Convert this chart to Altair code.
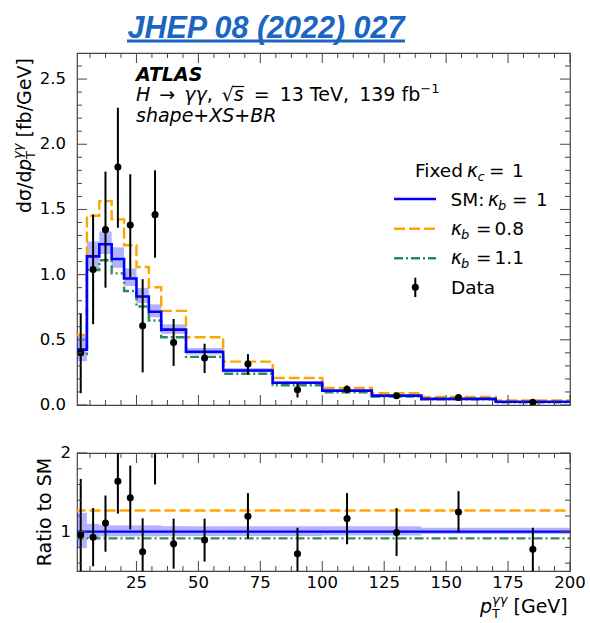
import altair as alt
import pandas as pd

# ---- binned predictions (pT bins in GeV, cross sections in fb/GeV) ----
bin_lo = [0, 5, 10, 15, 20, 25, 30, 35, 45, 60, 80, 100, 120, 140, 170]
bin_hi = [5, 10, 15, 20, 25, 30, 35, 45, 60, 80, 100, 120, 140, 170, 200]
sm_xs = [0.425, 1.14, 1.233, 1.12, 0.97, 0.832, 0.715, 0.578, 0.409, 0.265, 0.171, 0.110, 0.072, 0.047, 0.025]
kb08_xs = [0.537, 1.452, 1.564, 1.424, 1.225, 1.059, 0.903, 0.722, 0.52, 0.333, 0.207, 0.131, 0.090, 0.061, 0.034]
kb11_xs = [0.39, 1.035, 1.11, 1.01, 0.875, 0.755, 0.648, 0.52, 0.369, 0.24, 0.152, 0.097, 0.065, 0.043, 0.021]
# SM uncertainty band, relative to SM
sm_unc_lo = [0.79, 0.92, 0.94, 0.94, 0.94, 0.94, 0.94, 0.945, 0.945, 0.945, 0.945, 0.95, 0.95, 0.97, 0.97]
sm_unc_hi = [1.24, 1.10, 1.08, 1.08, 1.08, 1.08, 1.08, 1.07, 1.07, 1.07, 1.07, 1.07, 1.07, 1.05, 1.05]
# ratios to SM
ratio_sm = [1.0, 1.0, 1.0, 1.0, 1.0, 1.0, 1.0, 1.0, 1.0, 1.0, 1.0, 1.0, 1.0, 1.0, 1.0]
ratio_kb08 = [1.27, 1.27, 1.27, 1.27, 1.27, 1.27, 1.27, 1.27, 1.27, 1.27, 1.27, 1.27, 1.27, 1.27, 1.27]
ratio_kb11 = [0.915, 0.915, 0.915, 0.915, 0.915, 0.915, 0.915, 0.915, 0.915, 0.915, 0.915, 0.915, 0.915, 0.915, 0.915]

# ---- measured data ----
data_x = [2.5, 7.5, 12.5, 17.5, 22.5, 27.5, 32.5, 40, 52.5, 70, 90, 110, 130, 155, 185]
data_y = [0.40, 1.04, 1.345, 1.825, 1.38, 0.607, 1.46, 0.48, 0.36, 0.314, 0.117, 0.12, 0.071, 0.058, 0.021]
data_lo = [0.09, 0.62, 0.90, 1.36, 0.98, 0.25, 1.13, 0.30, 0.245, 0.232, 0.058, 0.09, 0.055, 0.048, 0.015]
data_hi = [0.70, 1.46, 1.79, 2.28, 1.77, 0.965, 1.80, 0.66, 0.47, 0.39, 0.168, 0.15, 0.087, 0.068, 0.027]
ratio_y = [0.958, 0.93, 1.11, 1.64, 1.43, 0.745, 2.06, 0.847, 0.894, 1.196, 0.72, 1.166, 0.99, 1.25, 0.776]
ratio_lo = [0.25, 0.56, 0.745, 1.23, 1.03, 0.32, 1.60, 0.53, 0.62, 0.91, 0.37, 0.84, 0.69, 0.99, 0.45]
ratio_hi = [1.67, 1.30, 1.46, 2.05, 1.84, 1.17, 2.53, 1.166, 1.166, 1.49, 1.05, 1.49, 1.30, 1.515, 1.05]

# ---- axis ticks and tick labels ----
x_major = [25, 50, 75, 100, 125, 150, 175, 200]
x_labels = ["25", "50", "75", "100", "125", "150", "175", "200"]
x_minor = [6.25 * i for i in range(1, 32) if i % 4]
y1_major = [0.0, 0.5, 1.0, 1.5, 2.0, 2.5]
y1_labels = ["0.0", "0.5", "1.0", "1.5", "2.0", "2.5"]
y1_minor = [round(0.1 * i, 1) for i in range(1, 27) if i % 5]
y2_major = [1, 2]
y2_labels = ["1", "2"]
y2_minor = [0.6, 0.8, 1.2, 1.4, 1.6, 1.8]

W, H1, H2 = 493, 352, 118
FONT = "DejaVu Sans"
BLUE, ORANGE, GREEN = "#0000ff", "#ffa500", "#2e8b57"
FRAME = "#444444"
TICK_FS = 16.5
XS = alt.Scale(domain=[1, 200], nice=False, zero=False)
YS1 = alt.Scale(domain=[0, 2.7], nice=False, zero=False)
YS2 = alt.Scale(domain=[0.5, 2.0], nice=False, zero=False)


def one():
    return pd.DataFrame({"a": [0]})


def step_frame(values):
    return pd.DataFrame({"x": bin_lo + [bin_hi[-1]], "y": values + [values[-1]]})


def step_line(values, color, yscale, dash=None, width=2.2):
    kw = dict(color=color, strokeWidth=width, interpolate="step-after", clip=True, strokeCap="butt")
    if dash:
        kw["strokeDash"] = dash
    return alt.Chart(step_frame(values)).mark_line(**kw).encode(
        x=alt.X("x:Q", scale=XS, axis=None), y=alt.Y("y:Q", scale=yscale, axis=None))


def band(lo, hi, yscale):
    df = pd.DataFrame({"a": bin_lo, "b": bin_hi, "lo": lo, "hi": hi})
    return alt.Chart(df).mark_rect(color=BLUE, opacity=0.3, clip=True).encode(
        x=alt.X("a:Q", scale=XS, axis=None), x2="b:Q",
        y=alt.Y("lo:Q", scale=yscale, axis=None), y2="hi:Q")


def data_marks(ys, los, his, yscale):
    df = pd.DataFrame({"x": data_x, "y": ys, "lo": los, "hi": his})
    base = alt.Chart(df)
    err = base.mark_rule(color="black", strokeWidth=2, clip=True).encode(
        x=alt.X("x:Q", scale=XS, axis=None), y=alt.Y("lo:Q", scale=yscale, axis=None), y2="hi:Q")
    pts = base.mark_circle(color="black", opacity=1, size=50, clip=True).encode(
        x=alt.X("x:Q", scale=XS, axis=None), y=alt.Y("y:Q", scale=yscale, axis=None))
    return [err, pts]


def frame_ticks(yscale, y_major, y_minor, height):
    out = []
    for vals, ln in ((x_major, 10), (x_minor, 5)):
        df = pd.DataFrame({"v": vals})
        for y0, y1 in ((height, height - ln), (0, ln)):
            out.append(alt.Chart(df).mark_rule(color=FRAME, strokeWidth=1).encode(
                x=alt.X("v:Q", scale=XS, axis=None), y=alt.value(y0), y2=alt.value(y1)))
    for vals, ln in ((y_major, 10), (y_minor, 5)):
        df = pd.DataFrame({"v": vals})
        for x0, x1 in ((0, ln), (W, W - ln)):
            out.append(alt.Chart(df).mark_rule(color=FRAME, strokeWidth=1).encode(
                y=alt.Y("v:Q", scale=yscale, axis=None), x=alt.value(x0), x2=alt.value(x1)))
    return out


def y_tick_labels(vals, labels, yscale, x_right):
    df = pd.DataFrame({"v": vals, "t": labels})
    return alt.Chart(df).mark_text(align="right", baseline="middle", font=FONT, fontSize=TICK_FS,
                                   color="black").encode(
        y=alt.Y("v:Q", scale=yscale, axis=None), x=alt.value(x_right), text="t:N")


def x_tick_labels(y_top):
    df = pd.DataFrame({"v": x_major, "t": x_labels})
    return alt.Chart(df).mark_text(align="center", baseline="top", font=FONT, fontSize=TICK_FS,
                                   color="black").encode(
        x=alt.X("v:Q", scale=XS, axis=None), y=alt.value(y_top), text="t:N")


def txt(s, x, y, size=18.5, italic=False, bold=False, angle=0, align="left",
        color="black", font=FONT, baseline="alphabetic"):
    mk = dict(align=align, baseline=baseline, font=font, fontSize=size, color=color)
    if italic:
        mk["fontStyle"] = "italic"
    if bold:
        mk["fontWeight"] = "bold"
    if angle:
        mk["angle"] = angle
    return alt.Chart(pd.DataFrame({"t": [s]})).mark_text(**mk).encode(
        x=alt.value(x), y=alt.value(y), text="t:N")


# approximate advance widths of DejaVu Sans, in em
CW = {" ": .318, ".": .318, ",": .318, ":": .337, "/": .337, "[": .39, "]": .39,
      "+": .838, "=": .838, "−": .838, "→": .838, "√": .636, "γ": .592, "σ": .603, "κ": .57,
      "A": .684, "B": .686, "D": .770, "F": .575, "G": .775, "H": .752, "M": .863,
      "R": .695, "S": .635, "T": .611, "V": .684, "X": .685,
      "a": .613, "b": .635, "d": .635, "e": .615, "f": .352, "h": .634, "i": .278,
      "o": .612, "p": .635, "s": .521, "t": .392, "x": .592}


def adv(s, size):
    return sum(CW.get(c, .636) for c in s) * size


def rich(pieces, x0, y0, angle=0):
    """pieces: (text, size, italic, baseline shift, advances cursor, extra gap before);
    spaces only move the cursor. Returns the marks and the start of every piece."""
    out, starts, pos = [], [], 0.0
    for text, size, italic, shift, moves, gap in pieces:
        pos += gap
        lead = len(text) - len(text.lstrip(" "))
        body = text.strip(" ")
        p = pos + adv(" " * lead, size)
        starts.append(p)
        if angle == 270:
            out.append(txt(body, x0 + shift, y0 - p, size, italic, angle=270))
        else:
            out.append(txt(body, x0 + p, y0 + shift, size, italic))
        if moves:
            pos += adv(text, size)
    return out, starts


# ---------------- main panel ----------------
top_layers = [
    band([s * u for s, u in zip(sm_xs, sm_unc_lo)], [s * u for s, u in zip(sm_xs, sm_unc_hi)], YS1),
    step_line(kb08_xs, ORANGE, YS1, dash=[11, 4], width=2.4),
    step_line(kb11_xs, GREEN, YS1, dash=[9, 3, 2, 3], width=2.4),
    step_line(sm_xs, BLUE, YS1, width=2.6),
]
top_layers += data_marks(data_y, data_lo, data_hi, YS1)
top_layers += frame_ticks(YS1, y1_major, y1_minor, H1)
top_layers.append(y_tick_labels(y1_major, y1_labels, YS1, -11))

# journal reference heading with underline
top_layers.append(txt("JHEP 08 (2022) 027", 189, -15.5, size=30.5, italic=True, bold=True,
                      align="center", color="#1a66c0", font="Liberation Sans"))
top_layers.append(alt.Chart(one()).mark_rule(color="#1a66c0", strokeWidth=3).encode(
    x=alt.value(50), x2=alt.value(328), y=alt.value(-12)))

# experiment label
top_layers.append(txt("ATLAS", 59, 28, size=19, italic=True, bold=True))
marks, starts = rich([("H", 19, True, 0, True, 0), ("→", 19, False, 0, True, 9),
                      ("γγ", 19, True, 0, True, 9), (",", 19, False, 0, True, 0),
                      ("√", 19, False, 0, True, 9), ("s", 19, True, 0, True, 0),
                      ("=", 19, False, 0, True, 10), ("13 TeV,", 19, False, 0, True, 10),
                      ("139 fb", 19, False, 0, True, 7), ("−1", 13, False, -8, True, 0)], 59, 48)
top_layers += marks
# bar of the square root over "s"
top_layers.append(alt.Chart(one()).mark_rule(color="black", strokeWidth=1.2).encode(
    x=alt.value(59 + starts[5] - 1.5), x2=alt.value(59 + starts[5] + adv("s", 19) + 0.5), y=alt.value(33.5)))
top_layers.append(txt("shape+XS+BR", 59, 69, size=19, italic=True))

# y-axis title
marks, _ = rich([("dσ/d", 19, False, 0, True, 0), ("p", 19, True, 0, True, 0),
                 ("T", 13, False, 4, False, 0), ("γγ", 13, True, -9, True, 0),
                 (" [fb/GeV]", 19, False, 0, True, 0)], -46, 160, angle=270)
top_layers += marks

# legend
top_layers += [
    txt("Fixed", 338, 124), txt("κ", 390, 124, italic=True), txt("c", 400.5, 128, size=13, italic=True),
    txt("=", 412, 124), txt("1", 435, 124),
]
for y_line, y_txt, color, dash, rest in ((146, 153, BLUE, None, None), (175.7, 182.3, ORANGE, [11, 4], "0.8"),
                                          (205.3, 211.3, GREEN, [9, 3, 2, 3], "1.1")):
    kw = dict(color=color, strokeWidth=2.6 if dash is None else 2.4)
    if dash:
        kw["strokeDash"] = dash
    top_layers.append(alt.Chart(one()).mark_rule(**kw).encode(
        x=alt.value(317), x2=alt.value(359), y=alt.value(y_line)))
    if rest is None:
        top_layers += [txt("SM:", 373.5, y_txt), txt("κ", 411, y_txt, italic=True),
                       txt("b", 421, y_txt + 4, size=13, italic=True), txt("=", 435, y_txt), txt("1", 459, y_txt)]
    else:
        top_layers += [txt("κ", 374, y_txt, italic=True), txt("b", 384, y_txt + 4, size=13, italic=True),
                       txt("=", 399, y_txt), txt(rest, 417.5, y_txt)]
top_layers.append(alt.Chart(one()).mark_rule(color="black", strokeWidth=2).encode(
    x=alt.value(338.3), y=alt.value(224.7), y2=alt.value(244)))
top_layers.append(alt.Chart(one()).mark_circle(color="black", opacity=1, size=50).encode(
    x=alt.value(338.3), y=alt.value(234.3)))
top_layers.append(txt("Data", 374, 240.7))

# fixes the page origin: plot area starts 76 px right and 52 px below it
top_layers.append(alt.Chart(one()).mark_rule(color="white", opacity=0, strokeWidth=0.01).encode(
    x=alt.value(-76), x2=alt.value(-75), y=alt.value(-52)))

top = alt.layer(*top_layers).properties(width=W, height=H1)

# ---------------- ratio panel ----------------
bot_layers = [
    band(sm_unc_lo, sm_unc_hi, YS2),
    step_line(ratio_kb08, ORANGE, YS2, dash=[11, 4], width=2.4),
    step_line(ratio_kb11, GREEN, YS2, dash=[9, 3, 2, 3], width=2.4),
    step_line(ratio_sm, BLUE, YS2, width=2.2),
]
bot_layers += data_marks(ratio_y, ratio_lo, ratio_hi, YS2)
bot_layers += frame_ticks(YS2, y2_major, y2_minor, H2)
bot_layers.append(y_tick_labels(y2_major, y2_labels, YS2, -6))
bot_layers.append(x_tick_labels(H2 + 4))
bot_layers.append(txt("Ratio to SM", -26, 59, size=19, angle=270, align="center"))
marks, _ = rich([("p", 19, True, 0, True, 0), ("T", 13, False, 5, False, 0),
                 ("γγ", 13, True, -9, True, 0), (" [GeV]", 19, False, 0, True, 0)], 403, 160)
bot_layers += marks

bottom = alt.layer(*bot_layers).properties(width=W, height=H2)

chart = alt.vconcat(top, bottom, spacing=48, bounds="flush").properties(
    padding=0, background="white"
).configure_view(stroke=FRAME, strokeWidth=1.2)

chart.save("out.html", embed_options={"renderer": "svg", "actions": False})
